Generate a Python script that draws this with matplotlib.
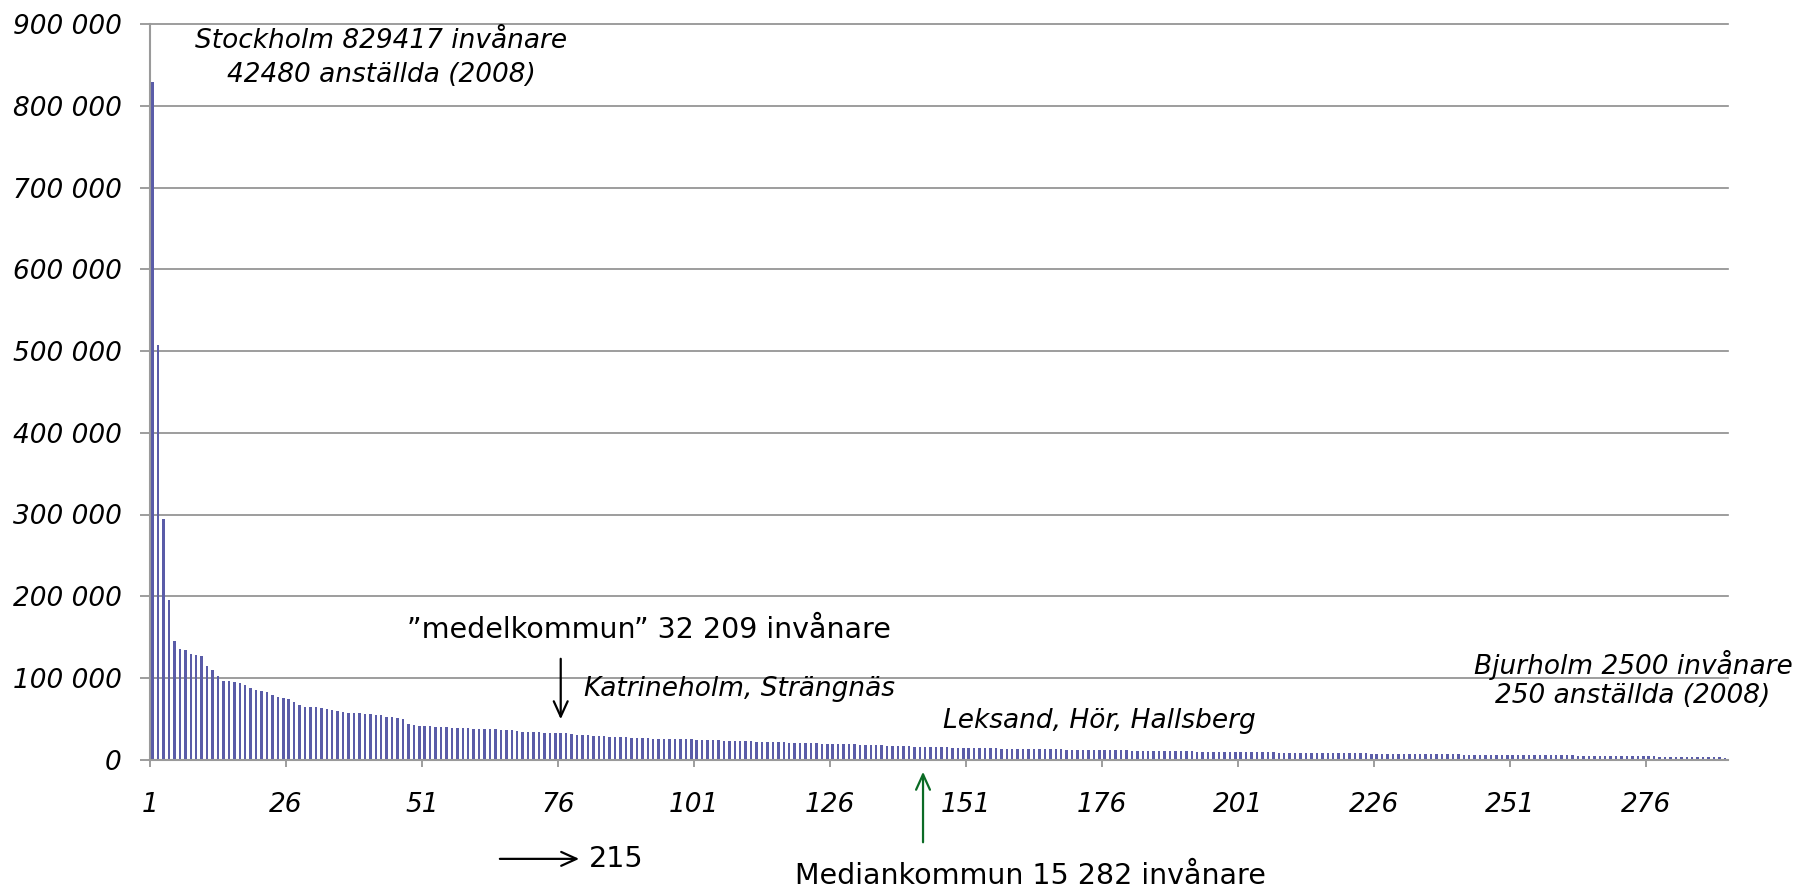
import matplotlib
matplotlib.use('Agg')
import matplotlib.pyplot as plt

# invånare per kommun, sorterat (rang 1..290)
befolkning = [
    829417, 507330, 293909, 194751, 145527, 135936, 134006, 129254, 128359, 126331,
    114075, 109147, 102458, 96311, 95798, 95533, 94352, 91800, 88000, 85000,
    84500, 82300, 79000, 77000, 75000, 74500, 71000, 66500, 64500, 64000,
    63800, 63000, 62000, 61000, 60000, 58500, 57500, 57000, 56500, 56000,
    55500, 55000, 54500, 52500, 52000, 51000, 49500, 43200, 41800, 41500,
    41200, 40800, 40500, 40100, 39800, 39000, 38700, 38400, 38100, 37900,
    37600, 37400, 37200, 37000, 36600, 36200, 35800, 35300, 34000, 33800,
    33500, 33300, 33100, 32900, 32600, 32300, 32000, 31200, 30700, 30200,
    29800, 29300, 28900, 28500, 28100, 27800, 27500, 27300, 27000, 26700,
    26400, 26100, 25800, 25600, 25400, 25200, 25000, 24900, 24800, 24700,
    24500, 24200, 24000, 23700, 23400, 23200, 23000, 22800, 22700, 22500,
    22300, 22100, 21900, 21700, 21500, 21300, 21000, 20800, 20600, 20400,
    20200, 20100, 19900, 19700, 19500, 19300, 19100, 18900, 18700, 18500,
    18300, 18100, 17900, 17600, 17400, 17100, 16900, 16600, 16400, 16200,
    16000, 15800, 15600, 15450, 15282, 15100, 14950, 14800, 14650, 14500,
    14350, 14200, 14050, 13900, 13750, 13600, 13500, 13400, 13300, 13200,
    13100, 13000, 12900, 12800, 12700, 12600, 12500, 12400, 12300, 12200,
    12100, 12000, 11900, 11800, 11700, 11600, 11500, 11400, 11300, 11200,
    11100, 11000, 10900, 10800, 10700, 10600, 10500, 10400, 10300, 10200,
    10100, 10000, 9900, 9800, 9700, 9600, 9500, 9400, 9300, 9200,
    9100, 9000, 8950, 8900, 8850, 8800, 8700, 8600, 8500, 8400,
    8300, 8200, 8100, 8000, 7950, 7900, 7850, 7800, 7750, 7700,
    7650, 7600, 7550, 7500, 7450, 7400, 7350, 7300, 7200, 7100,
    7000, 6950, 6900, 6850, 6800, 6750, 6700, 6600, 6500, 6400,
    6300, 6200, 6100, 6000, 5950, 5900, 5850, 5800, 5750, 5700,
    5650, 5600, 5550, 5500, 5450, 5400, 5350, 5300, 5250, 5200,
    5150, 5100, 5000, 4950, 4900, 4850, 4800, 4700, 4600, 4500,
    4400, 4300, 4200, 4100, 4000, 3900, 3800, 3700, 3600, 3500,
    3400, 3300, 3200, 3100, 3000, 2900, 2800, 2700, 2600, 2500,
]
rang = list(range(1, len(befolkning) + 1))
x_etiketter = [1, 26, 51, 76, 101, 126, 151, 176, 201, 226, 251, 276]
y_varden = [0, 100000, 200000, 300000, 400000, 500000, 600000, 700000, 800000, 900000]
y_etiketter = ['0', '100 000', '200 000', '300 000', '400 000', '500 000',
               '600 000', '700 000', '800 000', '900 000']

medel_rang = 76
median_rang = 142.6

plt.rcParams['font.family'] = ['DejaVu Sans']

fig = plt.figure(figsize=(17.93, 8.90), dpi=100)
ax = fig.add_axes([150 / 1793, (890 - 759.6) / 890, (1727.6 - 150) / 1793, (759.6 - 24.3) / 890])

ax.bar(rang, befolkning, width=0.45, color='#5a5ca8', zorder=3)

ax.set_xlim(0.5, len(befolkning) + 0.5)
ax.set_ylim(0, 900000)

ax.set_yticks(y_varden)
ax.set_yticklabels(y_etiketter, fontsize=19, fontstyle='italic')
ax.set_xticks([k - 0.5 for k in x_etiketter])
ax.set_xticklabels([str(k) for k in x_etiketter], fontsize=19, fontstyle='italic')

ax.tick_params(axis='y', length=7.5, width=1.2, color='#8c8c8c', pad=13)
ax.tick_params(axis='x', length=5, width=1.2, color='#8c8c8c', pad=18)
ax.grid(axis='y', color='#8c8c8c', linewidth=1.2, zorder=0)
for gl in ax.get_ygridlines():
    gl.set_clip_on(False)
for s in ['top', 'right']:
    ax.spines[s].set_visible(False)
for s in ['left', 'bottom']:
    ax.spines[s].set_color('#9a9a9a')
    ax.spines[s].set_linewidth(1.5)
    ax.spines[s].set_zorder(4)

it = dict(fontsize=19, fontstyle='italic', ha='center', va='center', annotation_clip=False)
ax.annotate('Stockholm 829417 invånare', xy=(43.0, 879000), **it)
ax.annotate('42480 anställda (2008)', xy=(43.0, 838000), **it)
ax.annotate('Bjurholm 2500 invånare', xy=(273.1, 115800), **it)
ax.annotate('250 anställda (2008)', xy=(273.1, 77800), **it)
ax.annotate('Katrineholm, Strängnäs', xy=(80.3, 86400), fontsize=19, fontstyle='italic',
            ha='left', va='center')
ax.annotate('Leksand, Hör, Hallsberg', xy=(146.3, 47200), fontsize=19, fontstyle='italic',
            ha='left', va='center')

ax.annotate('\u201dmedelkommun\u201d 32 209 invånare', xy=(92.2, 158600), fontsize=20.5,
            ha='center', va='center')
ax.annotate('', xy=(medel_rang, 46000), xytext=(medel_rang, 126800),
            arrowprops=dict(arrowstyle='->,head_length=1.1,head_width=0.5', color='black', lw=1.6))

ax.annotate('', xy=(79.9, -121500), xytext=(64.3, -121500), annotation_clip=False,
            arrowprops=dict(arrowstyle='->,head_length=1.1,head_width=0.5', color='black', lw=1.6))
ax.annotate('215', xy=(81.2, -121500), fontsize=20.5, ha='left', va='center', annotation_clip=False)

ax.annotate('', xy=(median_rang, -11500), xytext=(median_rang, -104600), annotation_clip=False,
            arrowprops=dict(arrowstyle='->,head_length=1.1,head_width=0.5', color='#0b6b25', lw=1.6))
ax.annotate('Mediankommun 15 282 invånare', xy=(162.3, -142500), fontsize=20.5,
            ha='center', va='center', annotation_clip=False)

fig.savefig('out.png', dpi=100)
